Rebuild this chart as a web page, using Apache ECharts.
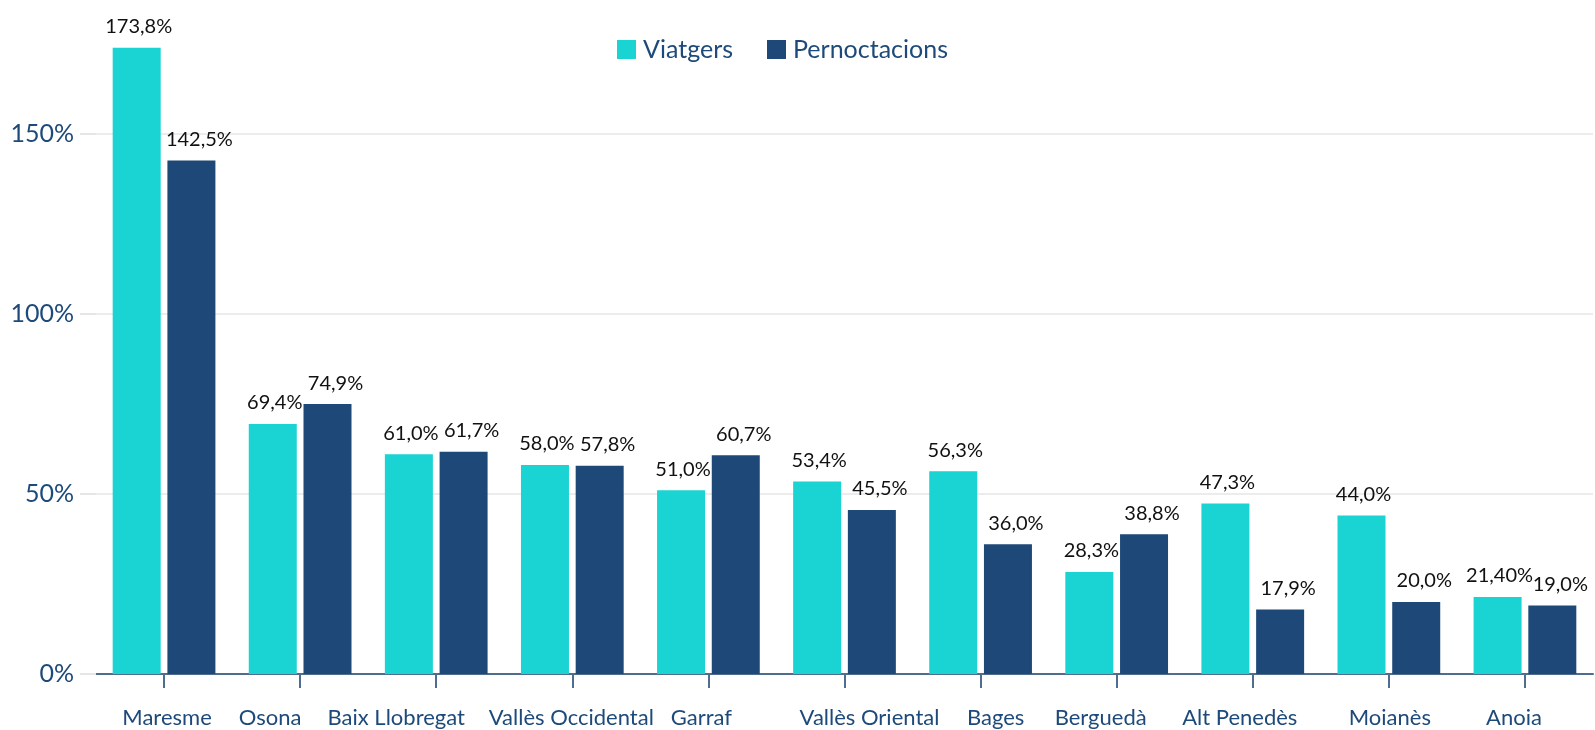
<!DOCTYPE html>
<html>
<head>
<meta charset="utf-8">
<script src="https://cdn.jsdelivr.net/npm/echarts@6/dist/echarts.min.js"></script>
<style>
  html, body { margin: 0; padding: 0; background: #fff; }
  #myChart { width: 1595px; height: 730px; }
</style>
</head>
<body>
<div id="myChart"></div>
<script>
const comarques = ["Maresme", "Osona", "Baix Llobregat", "Vallès Occidental", "Garraf", "Vallès Oriental", "Bages", "Berguedà", "Alt Penedès", "Moianès", "Anoia"];
const viatgers = [173.8, 69.4, 61.0, 58.0, 51.0, 53.4, 56.3, 28.3, 47.3, 44.0, 21.4];
const pernoctacions = [142.5, 74.9, 61.7, 57.8, 60.7, 45.5, 36.0, 38.8, 17.9, 20.0, 19.0];
const viatgersLabels = ["173,8%", "69,4%", "61,0%", "58,0%", "51,0%", "53,4%", "56,3%", "28,3%", "47,3%", "44,0%", "21,40%"];
const pernoctacionsLabels = ["142,5%", "74,9%", "61,7%", "57,8%", "60,7%", "45,5%", "36,0%", "38,8%", "17,9%", "20,0%", "19,0%"];

const font = "Lato";
const blau = "#1d4a7a";

// horizontal nudge (px) of each category label, as in the original layout
const labelShift = [3, -30, -40, -1, -7, 25, 15, -16, -13, 1, -11];
const richLabels = {};
labelShift.forEach((d, i) => {
  richLabels["s" + i] = {
    fontSize: 22,
    color: blau,
    fontFamily: font,
    padding: d >= 0 ? [0, 0, 0, 2 * d] : [0, -2 * d, 0, 0]
  };
});

let myChart = echarts.init(document.getElementById("myChart"));
myChart.setOption({
  animation: false,
  textStyle: { fontFamily: font },
  legend: {
    top: 32,
    left: 612,
    icon: "rect",
    itemWidth: 19,
    itemHeight: 19,
    itemGap: 34,
    textStyle: { fontSize: 25, color: blau, fontFamily: font, padding: [0, 0, 0, 2] },
    data: ["Viatgers", "Pernoctacions"]
  },
  grid: { left: 96, right: 2, top: 47, bottom: 56, containLabel: false },
  xAxis: {
    type: "category",
    data: comarques,
    axisLine: { lineStyle: { color: "#4f6d8f", width: 2 } },
    axisTick: { show: true, alignWithLabel: true, length: 14, lineStyle: { color: "#4f6d8f", width: 2 } },
    axisLabel: {
      fontSize: 22,
      color: blau,
      margin: 33,
      interval: 0,
      hideOverlap: false,
      formatter: (v, i) => "{s" + i + "|" + v + "}",
      rich: richLabels
    }
  },
  yAxis: {
    type: "value",
    min: 0,
    max: 174,
    interval: 50,
    axisLine: { show: false },
    axisTick: { show: true, length: 16, lineStyle: { color: "#e6e6e6", width: 2 } },
    axisLabel: {
      fontSize: 25,
      color: blau,
      margin: 22,
      showMaxLabel: false,
      formatter: v => (v % 50 === 0 ? v + "%" : "")
    },
    splitLine: { showMaxLine: false, lineStyle: { color: "#ececec", width: 2 } }
  },
  series: [
    {
      name: "Viatgers",
      type: "bar",
      data: viatgers,
      barWidth: 48,
      barGap: "14%",
      itemStyle: { color: "#1ad3d3" },
      label: {
        show: true,
        position: "top",
        distance: 11,
        offset: [2, 0],
        fontSize: 20,
        color: "#111",
        formatter: p => viatgersLabels[p.dataIndex]
      }
    },
    {
      name: "Pernoctacions",
      type: "bar",
      data: pernoctacions,
      barWidth: 48,
      itemStyle: { color: "#1d4877" },
      label: {
        show: true,
        position: "top",
        distance: 11,
        offset: [8, 0],
        fontSize: 20,
        color: "#111",
        formatter: p => pernoctacionsLabels[p.dataIndex]
      }
    }
  ]
});
</script>
</body>
</html>
